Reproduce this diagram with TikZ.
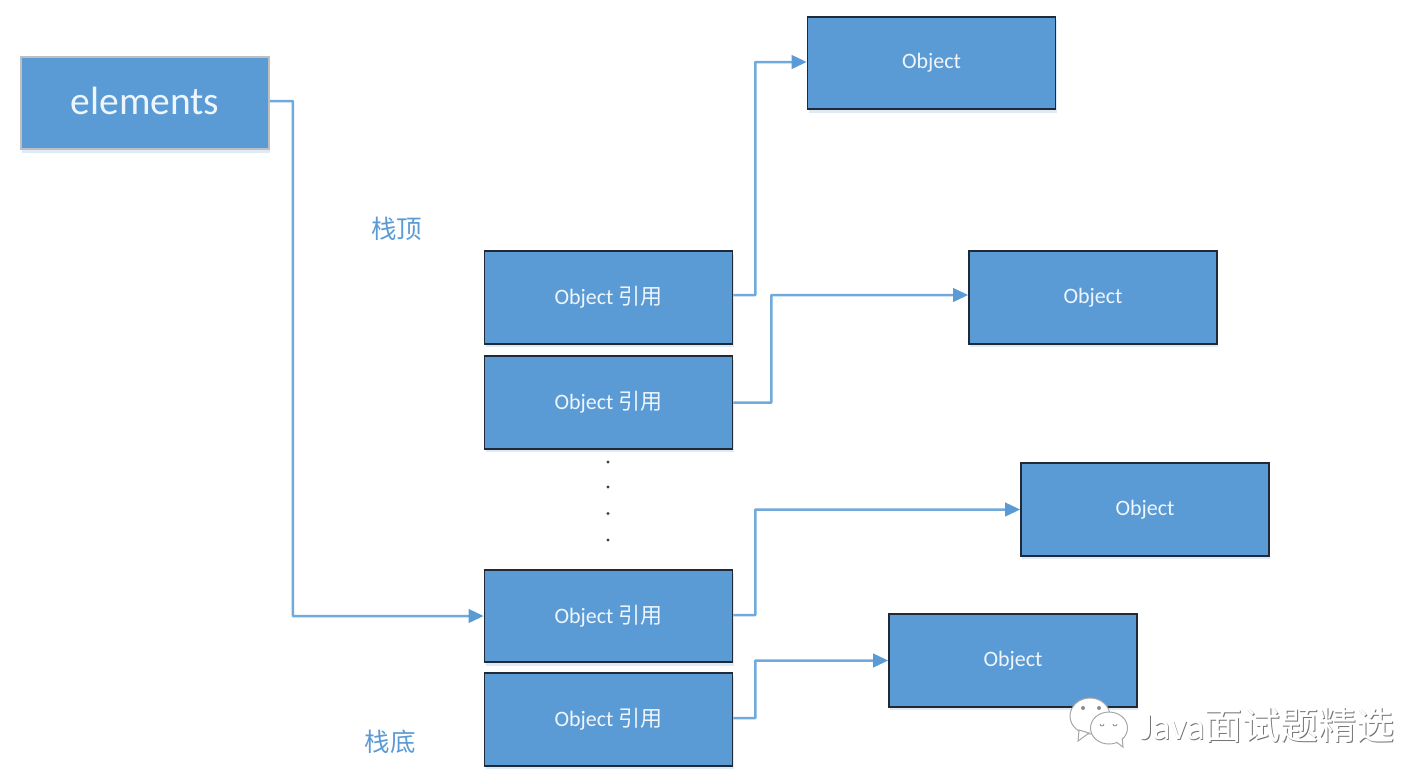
\documentclass[tikz,border=0pt]{standalone}
\usepackage{fontspec}
\setmainfont{Carlito}
\newfontfamily\cjk{Noto Sans CJK SC}
\usetikzlibrary{arrows.meta,shadows}
\definecolor{boxblue}{HTML}{5B9BD5}
\definecolor{linkblue}{HTML}{70A9DC}
\definecolor{txtlight}{HTML}{EEF5FB}
\definecolor{edge}{HTML}{1F2A36}
\tikzset{
  softshadow/.style={general shadow={shadow xshift=1pt,shadow yshift=-3.5pt,fill=boxblue,opacity=.2}},
  objbox/.style={draw=edge,line width=1.7pt,fill=boxblue,minimum width=248pt,minimum height=92.5pt,inner sep=0pt,text=txtlight,font=\fontsize{22pt}{24pt}\selectfont,softshadow},
  headbox/.style={objbox,draw=black!25,font=\fontsize{39.5pt}{42pt}\selectfont},
  link/.style={draw=linkblue,line width=2.5pt,rounded corners=0.5pt,-{Triangle[length=15pt,width=13.5pt,color=boxblue]}},
  stacklabel/.style={text=boxblue,font=\cjk\fontsize{25.5pt}{27pt}\selectfont,inner sep=0pt},
  vdot/.style={circle,fill=black!75,minimum size=3.4pt,inner sep=0pt},
  markshape/.style={draw=black!35,line width=1pt,fill=white},
}
\begin{document}
\begin{tikzpicture}[x=1pt,y=-1pt]
\useasboundingbox (0,0) rectangle (1415,780);
\node[headbox] (elements) at (145,103) {\raisebox{4pt}{elements}};
\node[objbox] (r1) at (608.5,297.5) {\raisebox{-1pt}{Object {\cjk 引用}}};
\node[objbox] (r2) at (608.5,402.5) {\raisebox{-1pt}{Object {\cjk 引用}}};
\node[objbox] (r3) at (608.5,616) {\raisebox{-1pt}{Object {\cjk 引用}}};
\node[objbox] (r4) at (608.5,719.5) {Object {\cjk 引用}};
\node[objbox] (o1) at (931.5,63) {\raisebox{-1pt}{Object}};
\node[objbox] (o2) at (1093,297.5) {Object};
\node[objbox] (o3) at (1145,509.5) {Object};
\node[objbox] (o4) at (1013,660.5) {\raisebox{-1pt}{Object}};
\node[stacklabel] (top) at (396.5,229) {栈顶};
\node[stacklabel] (bottom) at (390,742) {栈底};
\node[vdot] (d1) at (608,462) {};
\node[vdot] (d2) at (608,487) {};
\node[vdot] (d3) at (608,513.5) {};
\node[vdot] (d4) at (608,540) {};
\draw[link] ([yshift=2pt]elements.east) -- ++(23,0) |- (r3.west);
\draw[link] ([yshift=2.5pt]r1.east) -- ++(22,0) |- ([yshift=1pt]o1.west);
\draw[link] (r2.east) -- ++(38,0) |- ([yshift=2.5pt]o2.west);
\draw[link] ([yshift=1pt]r3.east) -- ++(22,0) |- (o3.west);
\draw[link] ([yshift=1.5pt]r4.east) -- ++(22,0) |- (o4.west);
% watermark
\begin{scope}
\draw[markshape] (1090,716) ellipse (20 and 18);
\fill[markshape] (1079,730) -- (1078,741) -- (1089,733) -- cycle;
\draw[markshape] (1109,728) ellipse (18.5 and 16);
\fill[markshape] (1115,741) -- (1123,747) -- (1122,737) -- cycle;
\fill[white] (1109,728) ellipse (17.5 and 15);
\fill[black!45] (1083,708) circle (2) (1099,708) circle (2);
\draw[black!45,line width=.8pt] (1100,724) arc (180:0:2) (1113,724) arc (180:0:2);
\end{scope}
\node[anchor=west,inner sep=0pt,text=black!55,font=\fontsize{38pt}{40pt}\selectfont] (wmshadow) at (1140.8,726.2) {Java{\cjk 面试题精选}};
\node[anchor=west,inner sep=0pt,text=white,font=\fontsize{38pt}{40pt}\selectfont] (wm) at (1140,725) {Java{\cjk 面试题精选}};
\end{tikzpicture}
\end{document}
